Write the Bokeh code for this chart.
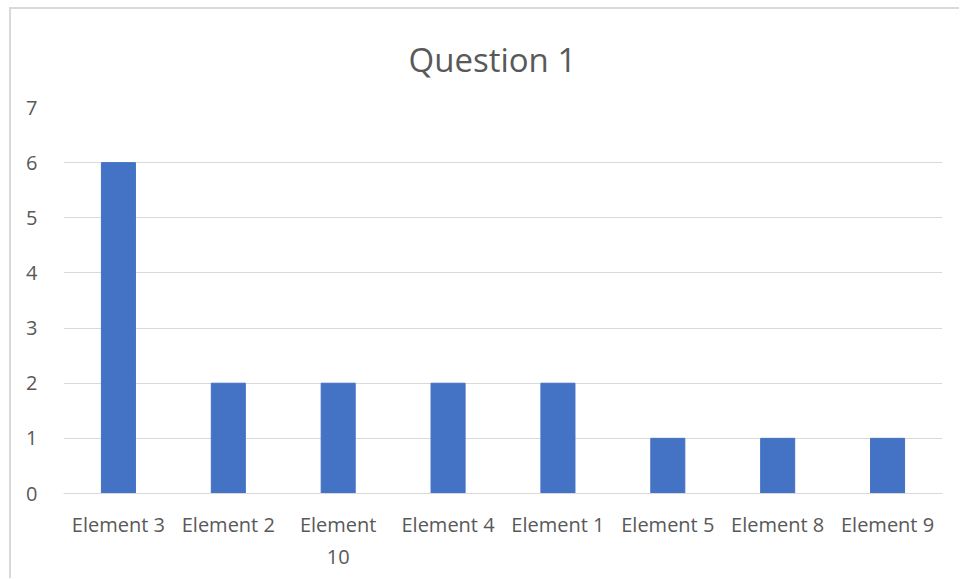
from bokeh.plotting import figure
from bokeh.models import FixedTicker, Range1d
from bokeh.embed import file_html
from bokeh.resources import INLINE

# Category labels and counts for Question 1
categories = ["Element 3", "Element 2", "Element\n10", "Element 4",
              "Element 1", "Element 5", "Element 8", "Element 9"]
counts = [6, 2, 2, 2, 2, 1, 1, 1]
y_ticks = [0, 1, 2, 3, 4, 5, 6, 7]
chart_title = "Question 1"

FONT = "Open Sans"
TEXT = "#595959"
GRID = "#d9d9d9"
BAR = "#4472C4"

p = figure(
    x_range=categories,
    y_range=Range1d(0, 7),
    width=950, height=571,
    output_backend="svg",
    toolbar_location=None,
    min_border_left=52, min_border_right=19,
    min_border_top=98, min_border_bottom=87,
    title=chart_title,
    styles={"margin-left": "9px", "margin-top": "7px",
            "border-left": f"2px solid {GRID}",
            "border-top": f"2px solid {GRID}"},
)

p.vbar(x=categories, top=counts, width=0.31, color=BAR)

# title centred over the whole chart area rather than the plot frame
p.title.align = "left"
p.title.offset = 345
p.title.vertical_align = "top"
p.title.text_font = FONT
p.title.text_font_size = "33px"
p.title.text_font_style = "normal"
p.title.text_color = TEXT
p.title.standoff = 48

p.outline_line_color = None
p.x_range.range_padding = 0

p.xgrid.grid_line_color = None
p.ygrid.grid_line_color = GRID
p.ygrid.grid_line_width = 1

p.yaxis.ticker = FixedTicker(ticks=y_ticks)
p.yaxis.axis_line_color = None
p.yaxis.major_tick_line_color = None
p.yaxis.minor_tick_line_color = None
p.yaxis.major_label_text_font = FONT
p.yaxis.major_label_text_font_size = "20px"
p.yaxis.major_label_text_color = TEXT
p.yaxis.major_label_standoff = 20

p.xaxis.axis_line_color = GRID
p.xaxis.major_tick_line_color = None
p.xaxis.minor_tick_line_color = None
p.xaxis.major_label_text_font = FONT
p.xaxis.major_label_text_font_size = "20px"
p.xaxis.major_label_text_color = TEXT
p.xaxis.major_label_standoff = 11

open("out.html", "w").write(file_html(p, INLINE))
